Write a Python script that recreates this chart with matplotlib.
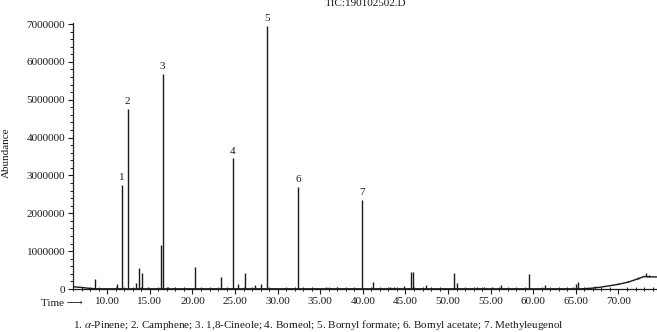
import numpy as np
import matplotlib
matplotlib.use('Agg')
import matplotlib.pyplot as plt
from matplotlib.ticker import MultipleLocator, FormatStrFormatter

plt.rcParams['font.family'] = ['Liberation Serif', 'DejaVu Serif']
plt.rcParams['mathtext.fontset'] = 'stix'

# retention time (min) and abundance of the peaks
peak_time = [8.58, 9.7, 11.2, 11.69, 12.39, 13.43, 13.7, 14.12, 14.8, 16.3, 16.5, 17.1,
             20.27, 23.35, 24.72, 25.38, 26.2, 27.34, 28.0, 28.8, 32.42, 35.7, 37.0,
             39.93, 41.15, 43.2, 43.7, 44.8, 45.6, 45.9, 47.37, 50.69, 51.08, 52.37,
             53.35, 54.2, 55.1, 56.17, 59.53, 61.4, 64.7, 64.98, 65.28, 67.3, 68.6,
             69.98, 71.15, 72.3, 73.23, 73.58]
peak_height = [270000, 30000, 130000, 2750000, 4750000, 150000, 550000, 430000, 50000,
               1170000, 5680000, 40000, 570000, 330000, 3450000, 130000, 410000, 100000,
               120000, 6950000, 2700000, 60000, 40000, 2350000, 180000, 40000, 40000,
               90000, 460000, 460000, 100000, 430000, 150000, 30000, 40000, 40000,
               40000, 100000, 400000, 100000, 60000, 130000, 190000, 80000, 80000,
               160000, 220000, 310000, 420000, 370000]

# baseline drift
base_time = [5.97, 7.0, 8.0, 9.0, 20.0, 65.6, 66.8, 67.8, 69.9, 71.1, 72.3, 73.0, 73.9, 74.52]
base_level = [60000, 40000, 15000, 5000, 5000, 5000, 20000, 45000, 120000, 180000,
              270000, 330000, 320000, 320000]

# numbered compounds
label_num = ['1', '2', '3', '4', '5', '6', '7']
label_time = [11.69, 12.39, 16.5, 24.72, 28.8, 32.42, 39.93]
label_height = [2750000, 4750000, 5680000, 3450000, 6950000, 2700000, 2350000]

caption = ('1. $\\alpha$-Pinene; 2. Camphene; 3. 1,8-Cineole; 4. Borneol; '
           '5. Bornyl formate; 6. Bornyl acetate; 7. Methyleugenol')

ink = '#1a1a1a'

fig = plt.figure(figsize=(6.57, 3.32), dpi=100)
ax = fig.add_axes([0.111, 0.1295, 0.889, 0.802])

ax.plot(base_time, base_level, color=ink, lw=1.0)
bases = np.interp(peak_time, base_time, base_level)
ax.vlines(peak_time, bases, peak_height, color=ink, lw=1.0)

for n, t, h in zip(label_num, label_time, label_height):
    ax.annotate(n, (t, h), xytext=(0, 2), textcoords='offset points',
                ha='center', va='bottom', fontsize=8, color=ink)

ax.set_xlim(5.97, 74.52)
ax.set_ylim(0, 7035000)

for s in ['top', 'right']:
    ax.spines[s].set_visible(False)
for s in ['left', 'bottom']:
    ax.spines[s].set_color(ink)
    ax.spines[s].set_linewidth(0.9)

ax.xaxis.set_major_locator(MultipleLocator(5))
ax.xaxis.set_minor_locator(MultipleLocator(1))
ax.xaxis.set_major_formatter(FormatStrFormatter('%.2f'))
ax.yaxis.set_major_locator(MultipleLocator(1000000))
ax.yaxis.set_minor_locator(MultipleLocator(200000))
ax.yaxis.set_major_formatter(FormatStrFormatter('%d'))

ax.tick_params(axis='both', which='major', direction='out', length=3.5, width=0.8,
               labelsize=8, colors=ink, pad=2)
ax.tick_params(axis='x', which='minor', direction='inout', length=3, width=0.7, colors=ink)
ax.tick_params(axis='y', which='minor', direction='out', length=2, width=0.7, colors=ink)

fig.text(6 / 657, 0.539, 'Abundance', rotation=90, ha='center', va='center',
         fontsize=8, color=ink)
fig.text(0.557, 1 - 3.5 / 332, 'TIC:190102502.D', ha='center', va='center',
         fontsize=8, color=ink)
fig.text(40.7 / 657, 1 - 304 / 332, 'Time \u27f6', ha='left', va='center',
         fontsize=8, color=ink)
fig.text(73 / 657, 1 - 325 / 332, caption, ha='left', va='center', fontsize=8, color=ink)

fig.savefig('out.png', dpi=100)
